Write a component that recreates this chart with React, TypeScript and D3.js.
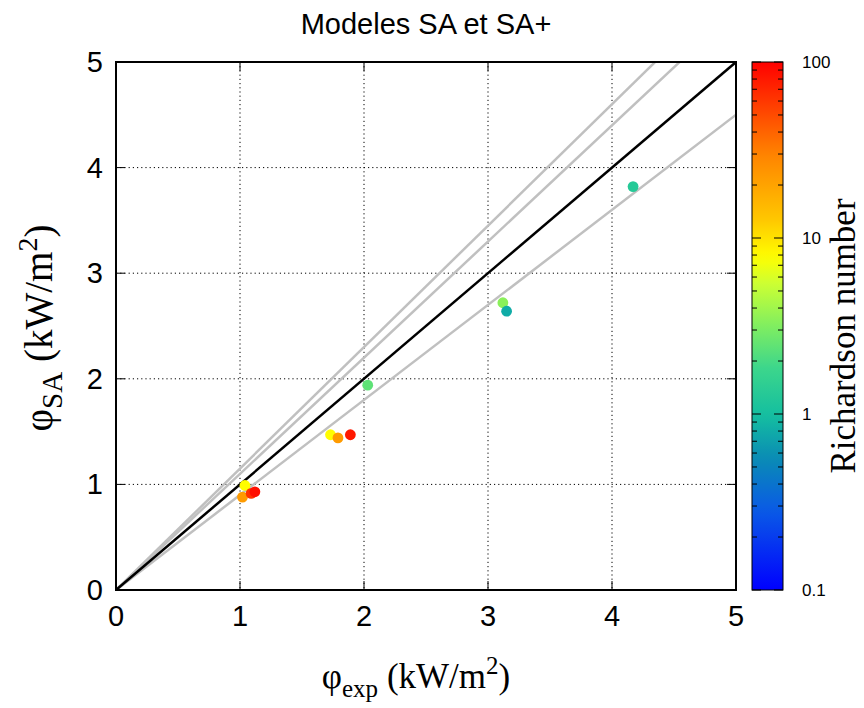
import React from 'react';
import * as d3 from 'd3';

// ---- data ----
const xTicks = [0, 1, 2, 3, 4, 5];
const yTicks = [0, 1, 2, 3, 4, 5];
const phiExp = [1.04, 1.02, 1.09, 1.12, 1.73, 1.79, 1.89, 2.03, 3.12, 3.15, 4.17];
const phiSA = [0.99, 0.88, 0.915, 0.93, 1.47, 1.44, 1.47, 1.94, 2.72, 2.64, 3.82];
const richardson = [7.9, 22, 62, 87, 7.9, 22, 80, 2.4, 3.4, 0.8, 1.3];
const refSlopes = [1.15, 1.1, 0.9];
const cbTicks = [0.1, 1, 10, 100];
const cbTickLabels = ['0.1', '1', '10', '100'];
const titleText = 'Modeles SA et SA+';
const cbTitle = 'Richardson number';

// palette stops (position in log-space 0..1)
const palPos = [0, 0.15, 0.25, 0.33, 0.42, 0.5, 0.58, 0.63, 0.7, 0.83, 1];
const palCol = ['#0000ff', '#0a5ae6', '#0a8cb4', '#14bea0', '#3cd68c', '#80ee60', '#ccff33', '#ffff00', '#ffc800', '#ff8000', '#ff0000'];

const W = 864, H = 708;
const M = { left: 116, right: 736, top: 62, bottom: 590 };
const CB = { left: 752, right: 783 };

export default function App() {
  const x = d3.scaleLinear().domain([0, 5]).range([M.left, M.right]);
  const y = d3.scaleLinear().domain([0, 5]).range([M.bottom, M.top]);
  const cbY = d3.scaleLog().domain([0.1, 100]).range([M.bottom, M.top]);
  const tScale = d3.scaleLog().domain([0.1, 100]).range([0, 1]).clamp(true);
  const pal = d3.scaleLinear<string>().domain(palPos).range(palCol).interpolate(d3.interpolateRgb);
  const color = (v: number) => pal(tScale(v));

  const line = d3.line<[number, number]>().x(d => x(d[0])).y(d => y(d[1]));

  const minor: number[] = [];
  [0.1, 1, 10].forEach(dec => { for (let k = 2; k <= 9; k++) minor.push(dec * k); });

  const gradStops = d3.range(0, 1.0001, 0.02);
  const font = "'Liberation Sans', Arial, sans-serif";
  const serif = "'Liberation Serif', 'Times New Roman', serif";
  const tickLen = 9;

  return (
    <svg width={W} height={H} style={{ position: 'absolute', left: 0, top: 0, background: '#fff' }}>
      <defs>
        <clipPath id="plotclip">
          <rect x={M.left} y={M.top} width={M.right - M.left} height={M.bottom - M.top} />
        </clipPath>
        <linearGradient id="cbgrad" x1="0" y1="1" x2="0" y2="0">
          {gradStops.map((t, i) => (
            <stop key={i} offset={t} stopColor={pal(t)} />
          ))}
        </linearGradient>
      </defs>
      <rect x={0} y={0} width={W} height={H} fill="#fff" />

      {/* title */}
      <text x={(M.left + M.right) / 2} y={34} textAnchor="middle" fontFamily={font} fontSize={29}>{titleText}</text>

      {/* grid */}
      {xTicks.slice(1, -1).map(t => (
        <line key={'gx' + t} x1={x(t)} x2={x(t)} y1={M.top} y2={M.bottom} stroke="#000" strokeWidth={1} strokeDasharray="1.2,3" />
      ))}
      {yTicks.slice(1, -1).map(t => (
        <line key={'gy' + t} x1={M.left} x2={M.right} y1={y(t)} y2={y(t)} stroke="#000" strokeWidth={1} strokeDasharray="1.2,3" />
      ))}

      {/* ticks */}
      {xTicks.map(t => (
        <g key={'tx' + t}>
          <line x1={x(t)} x2={x(t)} y1={M.bottom} y2={M.bottom - tickLen} stroke="#000" strokeWidth={1} />
          <line x1={x(t)} x2={x(t)} y1={M.top} y2={M.top + tickLen} stroke="#000" strokeWidth={1} />
          <text x={x(t)} y={M.bottom + 36} textAnchor="middle" fontFamily={font} fontSize={29}>{t}</text>
        </g>
      ))}
      {yTicks.map(t => (
        <g key={'ty' + t}>
          <line x1={M.left} x2={M.left + tickLen} y1={y(t)} y2={y(t)} stroke="#000" strokeWidth={1} />
          <line x1={M.right} x2={M.right - tickLen} y1={y(t)} y2={y(t)} stroke="#000" strokeWidth={1} />
          <text x={M.left - 13} y={y(t) + 10} textAnchor="end" fontFamily={font} fontSize={29}>{t}</text>
        </g>
      ))}

      {/* reference lines */}
      <g clipPath="url(#plotclip)">
        {refSlopes.map(s => (
          <path key={'r' + s} d={line([[0, 0], [6, 6 * s]]) || ''} fill="none" stroke="#c0c0c0" strokeWidth={2.5} />
        ))}
        <path d={line([[0, 0], [5, 5]]) || ''} fill="none" stroke="#000" strokeWidth={2.5} />
      </g>

      {/* points */}
      {phiExp.map((v, i) => (
        <circle key={'p' + i} cx={x(v)} cy={y(phiSA[i])} r={5.4} fill={color(richardson[i])} />
      ))}

      {/* border */}
      <rect x={M.left} y={M.top} width={M.right - M.left} height={M.bottom - M.top} fill="none" stroke="#000" strokeWidth={2} />

      {/* axis titles */}
      <text x={(M.left + M.right) / 2 - 10} y={688} textAnchor="middle" fontFamily={serif} fontSize={35}>
        φ<tspan fontSize={25} dy={9}>exp</tspan><tspan dy={-9}> (kW/m</tspan><tspan fontSize={25} dy={-14}>2</tspan><tspan dy={14}>)</tspan>
      </text>
      <text transform={`translate(52, 328) rotate(-90)`} textAnchor="middle" fontFamily={serif} fontSize={39}>
        φ<tspan fontSize={29} dy={10}>SA</tspan><tspan dy={-10}> (kW/m</tspan><tspan fontSize={28} dy={-15}>2</tspan><tspan dy={15}>)</tspan>
      </text>

      {/* colorbar */}
      <rect x={CB.left} y={M.top} width={CB.right - CB.left} height={M.bottom - M.top} fill="url(#cbgrad)" stroke="#000" strokeWidth={1} />
      {minor.map(v => (
        <g key={'cm' + v}>
          <line x1={CB.left} x2={CB.left + 5} y1={cbY(v)} y2={cbY(v)} stroke="#000" strokeWidth={1} />
          <line x1={CB.right} x2={CB.right - 5} y1={cbY(v)} y2={cbY(v)} stroke="#000" strokeWidth={1} />
        </g>
      ))}
      {cbTicks.map((v, i) => (
        <g key={'cb' + v}>
          <line x1={CB.left} x2={CB.left + 9} y1={cbY(v)} y2={cbY(v)} stroke="#000" strokeWidth={1} />
          <line x1={CB.right} x2={CB.right - 9} y1={cbY(v)} y2={cbY(v)} stroke="#000" strokeWidth={1} />
          <text x={802} y={cbY(v) + 6} fontFamily={font} fontSize={17}>{cbTickLabels[i]}</text>
        </g>
      ))}
      <text transform={`translate(855, 336) rotate(-90)`} textAnchor="middle" fontFamily={serif} fontSize={35}>{cbTitle}</text>
    </svg>
  );
}
